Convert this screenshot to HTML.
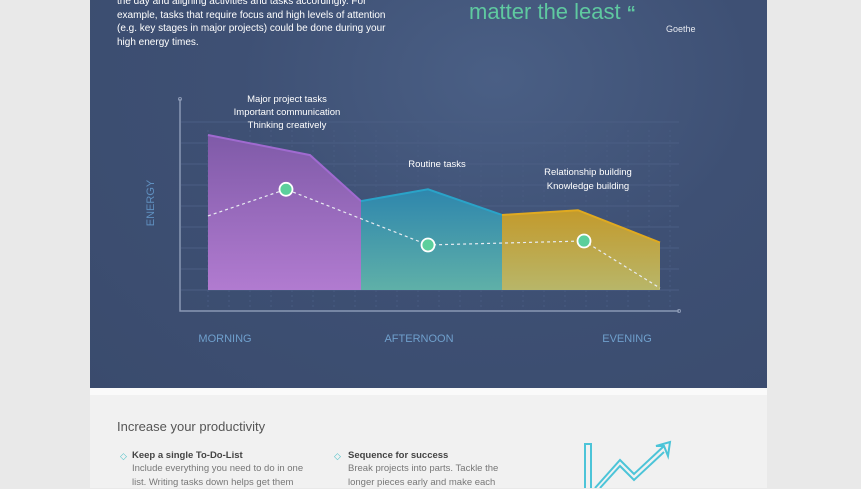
<!DOCTYPE html>
<html><head><meta charset="utf-8"><style>
body{margin:0;width:861px;height:488px;overflow:hidden;background:#e9e9e9;font-family:"Liberation Sans",sans-serif;position:relative}
.dark{position:absolute;left:90px;top:0;width:677px;height:388px;background:radial-gradient(ellipse at 60% 20%,#4a5f85 0%,#3e5074 45%,#3a4b6d 100%)}
.light{position:absolute;left:90px;top:395px;width:677px;height:93px;background:#f1f1f1}
.strip{position:absolute;left:90px;top:388px;width:677px;height:7px;background:#fafafa}
.t{position:absolute;color:#fff;font-size:10px;line-height:13.5px}
</style></head><body>
<div class="dark"></div>
<div class="strip"></div>
<div class="light"></div>
<div class="t" style="left:117px;top:-5px;width:275px">the day and aligning activities and tasks accordingly. For example, tasks that require focus and high levels of attention (e.g. key stages in major projects) could be done during your high energy times.</div>
<div class="t" style="left:469px;top:0px;font-size:22px;line-height:24px;color:#5fc9a0">matter the least <span style="font-size:18px;font-weight:bold">“</span></div>
<div class="t" style="left:666px;top:23px;font-size:9px;color:#e6e9f0">Goethe</div>
<svg id="chart" style="position:absolute;left:0;top:0" width="861" height="488">
<defs>
<linearGradient id="gp" x1="0" y1="0" x2="0" y2="1"><stop offset="0" stop-color="#7f5aa8"/><stop offset="1" stop-color="#b17bd0"/></linearGradient>
<linearGradient id="gt" x1="0" y1="0" x2="0" y2="1"><stop offset="0" stop-color="#2e86ad"/><stop offset="1" stop-color="#5fb0a8"/></linearGradient>
<linearGradient id="gy" x1="0" y1="0" x2="0" y2="1"><stop offset="0" stop-color="#c39a2c"/><stop offset="1" stop-color="#b8b669"/></linearGradient>
</defs>
<g id="grid"></g><g id="areas"></g><g id="line"></g><g id="labels"></g>
</svg>
<div class="t" style="left:117px;top:420px;font-size:13px;color:#555">Increase your productivity</div>
<div class="t" style="left:120px;top:450px;color:#4cc0c8;font-size:9px">◇</div>
<div class="t" style="left:132px;top:449px;color:#444;font-size:9.5px;font-weight:bold">Keep a single To-Do-List</div>
<div class="t" style="left:132px;top:462px;color:#777;font-size:9.5px;width:182px">Include everything you need to do in one list. Writing tasks down helps  get them</div>
<div class="t" style="left:334px;top:450px;color:#4cc0c8;font-size:9px">◇</div>
<div class="t" style="left:348px;top:449px;color:#444;font-size:9.5px;font-weight:bold">Sequence for success</div>
<div class="t" style="left:348px;top:462px;color:#777;font-size:9.5px;width:170px">Break projects into parts. Tackle the longer pieces early and make each</div>
<svg style="position:absolute;left:580px;top:440px" width="110" height="48">
<g fill="none" stroke="#4cc4d8" stroke-width="2"><path d="M5 48V4h6v44"/><path d="M15 48l25-28 14 14 30-28"/><path d="M20 48l20-22 14 14 30-28"/><path d="M84 6l-8 0 14-4-2 14z"/></g></svg>
<script>
const tAxis=v=>180+v*5, eAxis=v=>290-v*19;
const morningT=[5.6,26,36.2], morningE=[8.16,7.1,4.68];
const afternoonT=[36.2,49.6,64.4], afternoonE=[4.68,5.3,3.95];
const eveningT=[64.4,79.6,96], eveningE=[3.95,4.2,2.5];
const lineT=[5.6,21.2,49.6,80.8,96], lineE=[3.9,5.3,2.37,2.58,0.1];
const markerIdx=[1,2,3];
const periodNames=["MORNING","AFTERNOON","EVENING"], periodT=[9,47.8,89.4];
const NS="http://www.w3.org/2000/svg";
function mk(tag,attrs,parent){const e=document.createElementNS(NS,tag);for(const k in attrs)e.setAttribute(k,attrs[k]);document.getElementById(parent).appendChild(e);return e;}
for(let i=1;i<=9;i++){const y=290-(i-1)*21;const g=mk('line',{x1:181,x2:679,y1:y,y2:y,stroke:'#4b5e84','stroke-width':1},'grid');

}
for(let x=208;x<=679;x+=21){const g=mk('line',{x1:x,x2:x,y1:130,y2:310,stroke:'#485b81','stroke-width':1,'stroke-dasharray':'2,3'},'grid');

}
let a=mk('path',{d:'M180 99V311H679',fill:'none',stroke:'#8a98b4','stroke-width':1.5},'grid');


mk('circle',{cx:180,cy:99,r:1.5,fill:'none',stroke:'#8a98b4'},'grid');
mk('circle',{cx:679,cy:311,r:1.5,fill:'none',stroke:'#8a98b4'},'grid');
function area(T,E,fill,stroke,name){
 let d='M'+tAxis(T[0])+' '+eAxis(0);T.forEach((t,i)=>d+=' L'+tAxis(t)+' '+eAxis(E[i]));d+=' L'+tAxis(T[T.length-1])+' '+eAxis(0)+'Z';
 const p=mk('path',{d:d,fill:fill},'areas');
 
 
 let l='M'+T.map((t,i)=>tAxis(t)+' '+eAxis(E[i])).join(' L');
 mk('path',{d:l,fill:'none',stroke:stroke,'stroke-width':2},'areas');
}
area(morningT,morningE,'url(#gp)','#a06ad0','area-morning');
area(afternoonT,afternoonE,'url(#gt)','#2aa3c8','area-afternoon');
area(eveningT,eveningE,'url(#gy)','#e0aa20','area-evening');
const dl=mk('polyline',{points:lineT.map((t,i)=>tAxis(t)+','+eAxis(lineE[i])).join(' '),fill:'none',stroke:'#e8ecf2','stroke-width':1.2,'stroke-dasharray':'3,3'},'line');


markerIdx.forEach(i=>{const c=mk('circle',{cx:tAxis(lineT[i]),cy:eAxis(lineE[i]),r:6.5,fill:'#5ccf9c',stroke:'#fff','stroke-width':1.8},'line');

});
periodNames.forEach((n,i)=>{const t=mk('text',{x:tAxis(periodT[i]),y:342,'text-anchor':'middle','font-size':11,fill:'#6f9fcc','font-family':'Liberation Sans Narrow, Liberation Sans, sans-serif'},'labels');t.textContent=n;

});
const en=mk('text',{x:0,y:0,transform:'translate(154,203) rotate(-90)','text-anchor':'middle','font-size':11,fill:'#5f8fbf'},'labels');en.textContent='ENERGY';


const notes=[[287,102,"Major project tasks"],[287,115,"Important communication"],[287,128,"Thinking creatively"],[437,167,"Routine tasks"],[588,175,"Relationship building"],[588,189,"Knowledge building"]];
notes.forEach(n=>{const t=mk('text',{x:n[0],y:n[1],'text-anchor':'middle','font-size':9.5,fill:'#fff'},'labels');t.textContent=n[2];

});
</script>
</body></html>
